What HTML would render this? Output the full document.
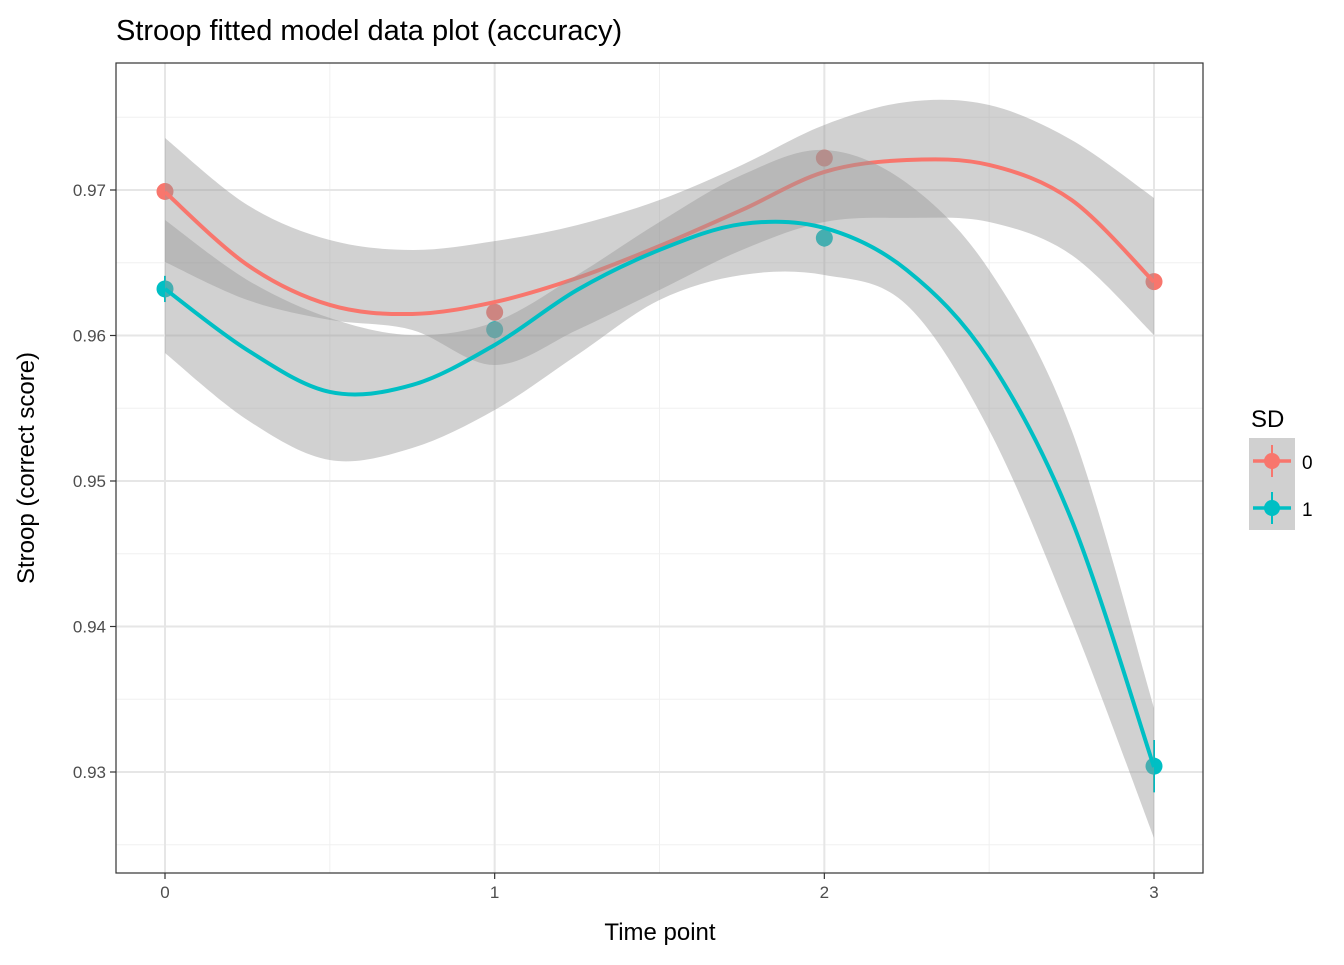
<!DOCTYPE html>
<html><head><meta charset="utf-8"><style>
body{margin:0;background:#fff;}
svg text{font-family:"Liberation Sans",Arial,sans-serif;}
</style></head><body>
<svg id="chart" width="1344" height="960" xmlns="http://www.w3.org/2000/svg">
<rect width="1344" height="960" fill="#fff"/>
<text x="116" y="40" font-size="29" fill="#000">Stroop fitted model data plot (accuracy)</text>
<g id="grid"></g>
<g id="marks"></g>
<rect x="116" y="63" width="1087" height="810" fill="none" stroke="#333" stroke-width="1.2"/>
<g id="axes"></g>
<text x="660" y="940" font-size="24" text-anchor="middle">Time point</text>
<text transform="translate(34,468) rotate(-90)" font-size="24" text-anchor="middle">Stroop (correct score)</text>
<g>
<text x="1251" y="427" font-size="24">SD</text>
<rect x="1249" y="438" width="46" height="92" fill="#d0d0d0"/>
<g>
<line x1="1253" y1="461" x2="1291" y2="461" stroke="#F8766D" stroke-width="3.5"/>
<line x1="1272" y1="445" x2="1272" y2="477" stroke="#F8766D" stroke-width="2"/>
<circle cx="1272" cy="461" r="8" fill="#F8766D"/>
<text x="1302" y="469" font-size="19">0</text></g>
<g>
<line x1="1253" y1="508" x2="1291" y2="508" stroke="#00BFC4" stroke-width="3.5"/>
<line x1="1272" y1="492" x2="1272" y2="524" stroke="#00BFC4" stroke-width="2"/>
<circle cx="1272" cy="508" r="8" fill="#00BFC4"/>
<text x="1302" y="516" font-size="19">1</text></g>
</g>
</svg>
<script>
const xTicks=[0,1,2,3];
const yTicks=[0.93,0.94,0.95,0.96,0.97];
const timePoints=[0,1,2,3];
const redPoints=[0.9699,0.9616,0.9722,0.9637];
const tealPoints=[0.9632,0.9604,0.9667,0.9304];
const redErr=[0.0004,0.0004,0.0004,0.0004];
const tealErr=[0.0009,0.0006,0.0006,0.0018];
const redX=[0,0.25,0.5,0.75,1,1.25,1.5,1.75,2,2.25,2.5,2.75,3];
const redFit=[.96986,.96485,.96210,.96148,.96230,.96395,.96615,.96863,.97124,.97206,.97172,.96931,.96368];
const redUpper=[.97357,.96897,.96656,.96588,.96649,.96759,.96931,.97172,.97447,.97605,.97584,.97344,.96945];
const redLower=[.96505,.96244,.96107,.96038,.95797,.96038,.96313,.96588,.96780,.96808,.96780,.96553,.96003];
const tealX=[0,0.25,0.5,0.75,1,1.25,1.5,1.75,2,2.25,2.5,2.75,3];
const tealFit=[.96320,.95900,.95612,.95660,.95935,.96313,.96588,.96766,.96739,.96450,.95832,.94732,.93034];
const tealUpper=[.96794,.96381,.96120,.96003,.96093,.96416,.96780,.97103,.97275,.97048,.96450,.95350,.93440];
const tealLower=[.95880,.95419,.95144,.95227,.95488,.95866,.96244,.96416,.96416,.96210,.95350,.94045,.92546];

const NS='http://www.w3.org/2000/svg';
const X=t=>165+t*329.67;
const Y=v=>190+(0.97-v)*14550;
function mk(tag,attrs,parent){const e=document.createElementNS(NS,tag);for(const k in attrs)e.setAttribute(k,attrs[k]);parent.appendChild(e);return e;}
function segs(pts){let d='';for(let i=0;i<pts.length-1;i++){const p0=pts[i-1]||pts[i],p1=pts[i],p2=pts[i+1],p3=pts[i+2]||p2;
d+=' C'+(p1[0]+(p2[0]-p0[0])/6)+','+(p1[1]+(p2[1]-p0[1])/6)+' '+(p2[0]-(p3[0]-p1[0])/6)+','+(p2[1]-(p3[1]-p1[1])/6)+' '+p2[0]+','+p2[1];}return d;}
function smooth(pts){return 'M'+pts[0][0]+','+pts[0][1]+segs(pts);}
const grid=document.getElementById('grid'),marks=document.getElementById('marks'),axes=document.getElementById('axes');
for(let i=0;i<xTicks.length-1;i++){const l=mk('line',{x1:X(xTicks[i]+0.5),x2:X(xTicks[i]+0.5),y1:63,y2:873,stroke:'#f0f0f0','stroke-width':1},grid);

}
for(let i=0;i<=yTicks.length;i++){const v=yTicks[0]-0.005+i*0.01;const l=mk('line',{x1:116,x2:1203,y1:Y(v),y2:Y(v),stroke:'#f0f0f0','stroke-width':1},grid);

}
xTicks.forEach(t=>{const l=mk('line',{x1:X(t),x2:X(t),y1:63,y2:873,stroke:'#e6e6e6','stroke-width':2},grid);


mk('line',{x1:X(t),x2:X(t),y1:873,y2:879,stroke:'#333','stroke-width':1.2},axes);
const tx=mk('text',{x:X(t),y:898,'font-size':17,'text-anchor':'middle',fill:'#4d4d4d'},axes);tx.textContent=t;

});
yTicks.forEach(v=>{const l=mk('line',{x1:116,x2:1203,y1:Y(v),y2:Y(v),stroke:'#e6e6e6','stroke-width':2},grid);


mk('line',{x1:110,x2:116,y1:Y(v),y2:Y(v),stroke:'#333','stroke-width':1.2},axes);
const tx=mk('text',{x:106,y:Y(v)+6,'font-size':17,'text-anchor':'end',fill:'#4d4d4d'},axes);tx.textContent=v.toFixed(2);

});
function points(vals,errs,col,name){timePoints.forEach((t,i)=>{
const e=mk('line',{x1:X(t),x2:X(t),y1:Y(vals[i]+errs[i]),y2:Y(vals[i]-errs[i]),stroke:col,'stroke-width':2},marks);


const c=mk('circle',{cx:X(t),cy:Y(vals[i]),r:8.5,fill:col},marks);

});}
function band(xs,up,lo,name){const u=xs.map((t,i)=>[X(t),Y(up[i])]);const l=xs.map((t,i)=>[X(t),Y(lo[i])]).reverse();
const d=smooth(u)+' L'+l[0][0]+','+l[0][1]+segs(l)+' Z';
const p=mk('path',{d:d,fill:'rgb(153,153,153)','fill-opacity':0.45},marks);

}
function line(xs,ys,col,name){const p=mk('path',{d:smooth(xs.map((t,i)=>[X(t),Y(ys[i])])),fill:'none',stroke:col,'stroke-width':4},marks);

}
points(redPoints,redErr,'#F8766D','sd0');
points(tealPoints,tealErr,'#00BFC4','sd1');
band(redX,redUpper,redLower,'sd0');
line(redX,redFit,'#F8766D','sd0');
band(tealX,tealUpper,tealLower,'sd1');
line(tealX,tealFit,'#00BFC4','sd1');
</script>
</body></html>
